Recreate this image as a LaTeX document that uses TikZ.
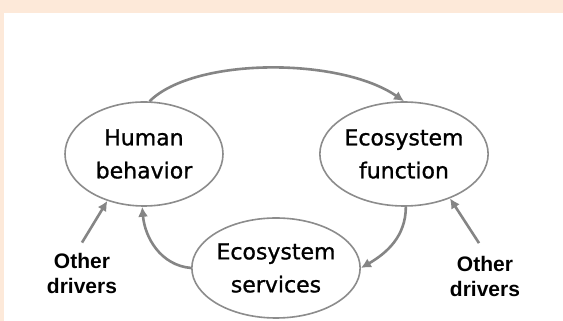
\documentclass[tikz,border=0pt]{standalone}
\usepackage{fontspec}
\setmainfont{DejaVu Sans}
\newfontfamily\ringfont{DejaVu Sans}[BoldFont={DejaVu Sans}, BoldFeatures={FakeBold=1}]
\newfontfamily\drvfont{Liberation Sans}
\usetikzlibrary{shapes,arrows.meta,positioning}
\definecolor{peach}{HTML}{FDE9D9}
\definecolor{ringgray}{HTML}{8C8C8C}
\definecolor{arrgray}{HTML}{858585}
\tikzstyle{ring} = [ellipse, draw=ringgray, line width=1.6pt, inner sep=0pt, align=center, minimum height=104pt, font=\ringfont\bfseries\fontsize{22}{33}\selectfont]
\tikzstyle{drivers} = [align=center, inner sep=0pt, font=\drvfont\bfseries\fontsize{21}{25}\selectfont]
\tikzstyle{line} = [draw=arrgray, line width=2.6pt, -{Latex[length=10pt, width=10pt]}]

\begin{document}
\begin{tikzpicture}[x=1pt, y=1pt]
    % background
    \fill [peach] (0,0) rectangle (563,321);
    \fill [white] (4,0) rectangle (563,308);
    \useasboundingbox (0,0) rectangle (563,321);
    % Place nodes
    \node [ring, minimum width=158pt] (human) at (144,167) {Human\\behavior};
    \node [ring, minimum width=168pt] (ecofunc) at (404,167) {Ecosystem\\function};
    \node [ring, minimum width=168pt, minimum height=100pt] (ecoserv) at (276,53) {Ecosystem\\services};
    \node [drivers] (ldrivers) at (82,48) {Other\\drivers};
    \node [drivers] (rdrivers) at (485,44.5) {Other\\drivers};

    % Draw edges
    \path [line] (human.84) .. controls (194,264) and (340,264) .. (ecofunc.north);
    \path [line] (ecofunc.-88) to[out=-90, in=30] (ecoserv.east);
    \path [line] (ecoserv.west) to[out=175, in=-85] (human.268);
    \path [line] ([yshift=10pt]ldrivers.north) -- (human.232);
    \path [line] ([xshift=-6pt, yshift=13pt]rdrivers.north) -- (ecofunc.-44);
\end{tikzpicture}
\end{document}
